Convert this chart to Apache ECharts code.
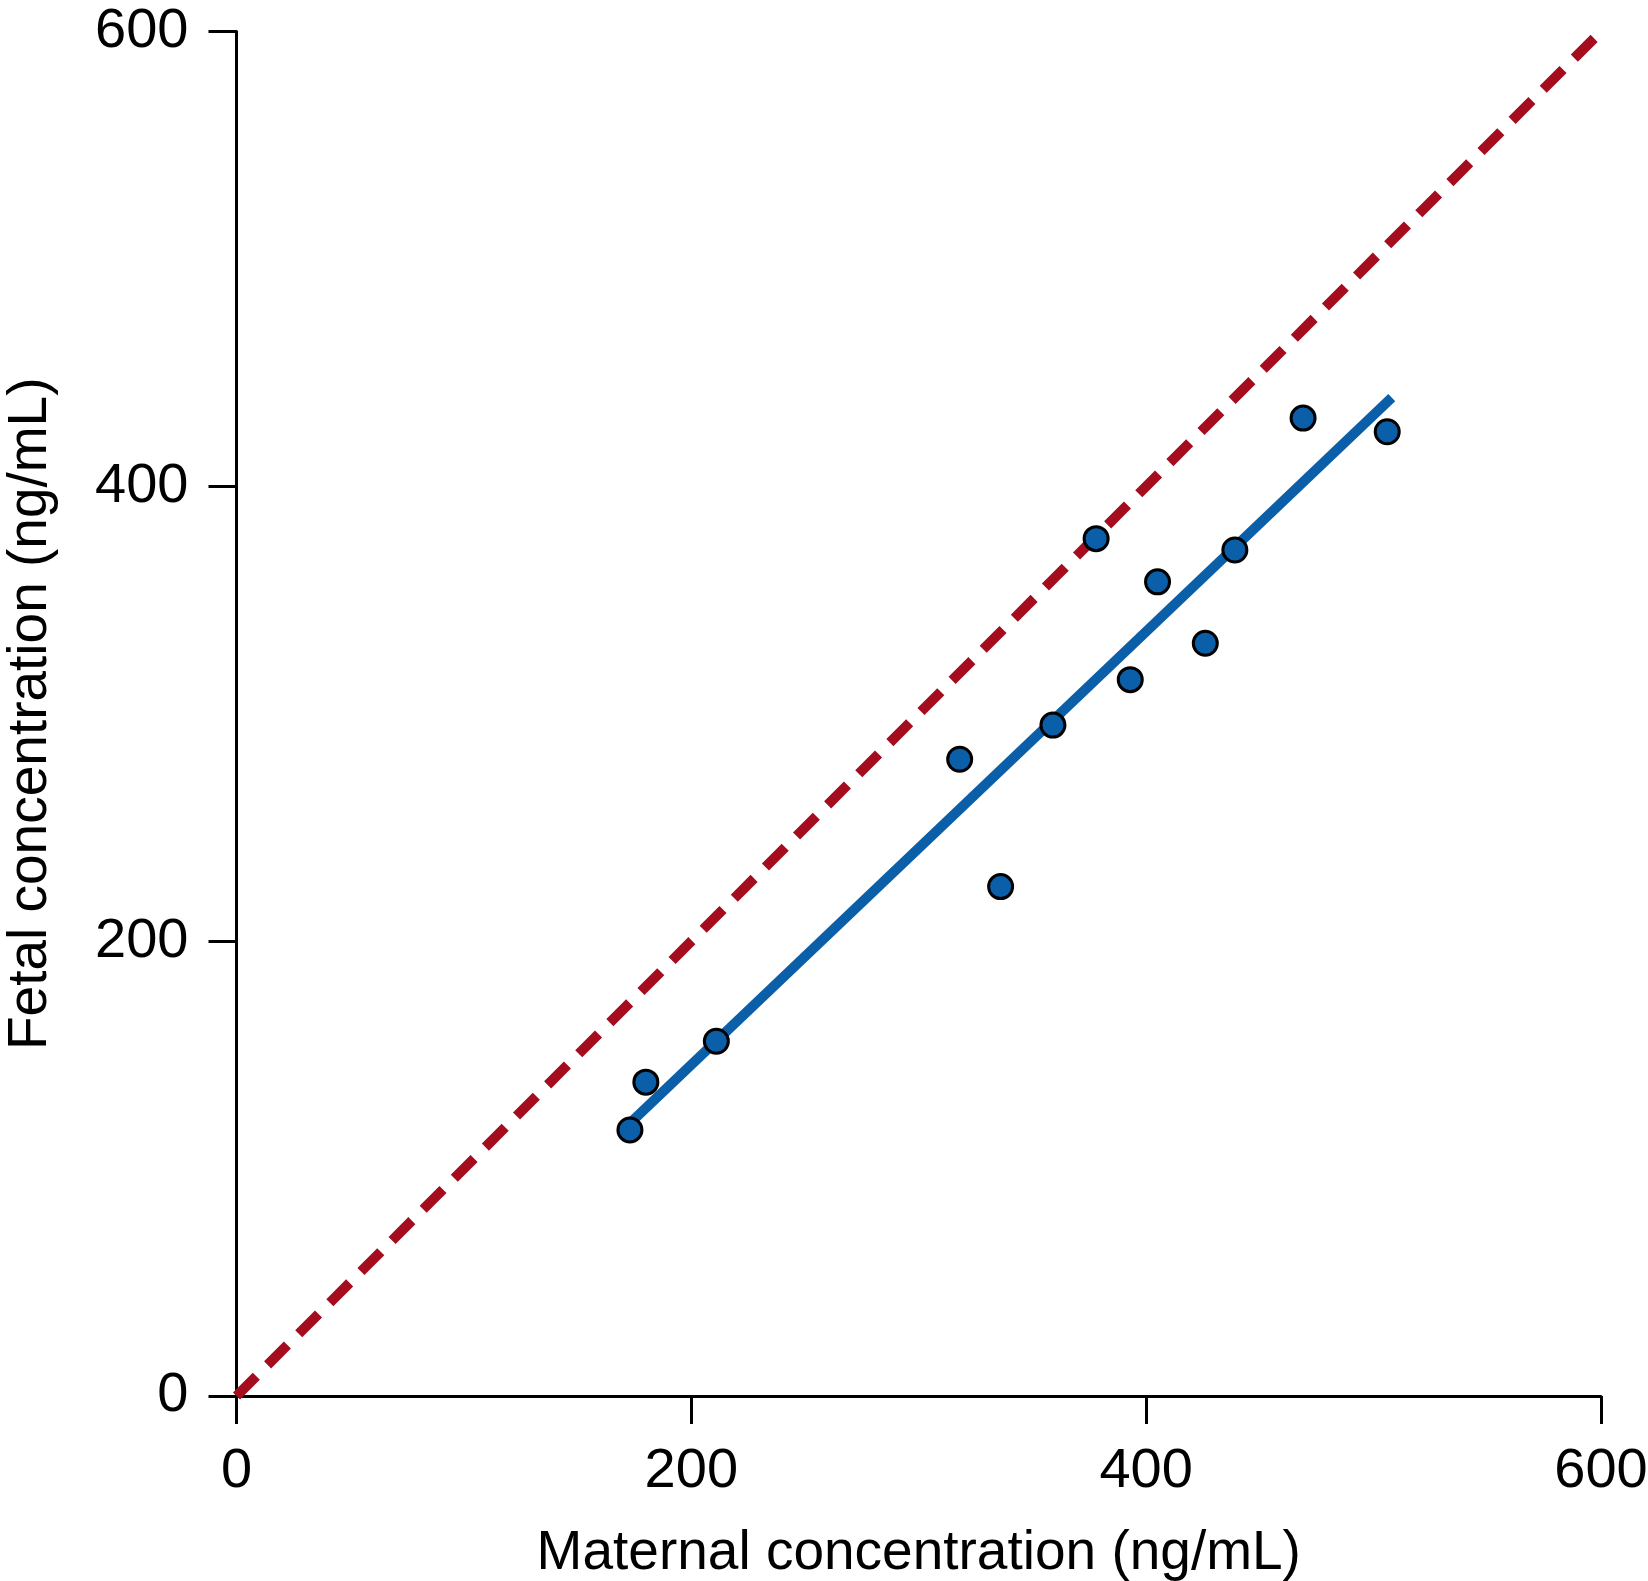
<!DOCTYPE html>
<html>
<head>
<meta charset="utf-8">
<script src="https://cdn.jsdelivr.net/npm/echarts@6/dist/echarts.min.js"></script>
<style>html,body{margin:0;padding:0;background:#fff}#c{width:1648px;height:1581px}</style>
</head>
<body>
<div id="c"></div>
<script>
var maternal = [173, 180, 211, 318, 336, 359, 378, 393, 405, 426, 439, 469, 506];
var fetal    = [117, 138, 156, 280, 224, 295, 377, 315, 358, 331, 372, 430, 424];
var fitLine = [[172, 119], [508, 439]];
var identityLine = [[0, 0], [600, 600]];
var ticks = [0, 200, 400, 600];
var xTitle = 'Maternal concentration (ng/mL)';
var yTitle = 'Fetal concentration (ng/mL)';

var pts = maternal.map(function (m, i) { return [m, fetal[i]]; });
var font = '"Liberation Sans", Arial, Helvetica, sans-serif';
var axisCommon = {
  type: 'value', min: ticks[0], max: ticks[ticks.length - 1], interval: ticks[1] - ticks[0],
  nameLocation: 'middle',
  nameTextStyle: { fontFamily: font, fontSize: 55, color: '#000' },
  axisLine: { show: true, lineStyle: { color: '#000', width: 3 } },
  axisTick: { show: true, length: 28, lineStyle: { color: '#000', width: 3 } },
  axisLabel: { fontFamily: font, fontSize: 56, color: '#000' },
  splitLine: { show: false }
};
var chart = echarts.init(document.getElementById('c'), null, { renderer: 'canvas' });
chart.setOption({
  animation: false,
  backgroundColor: '#fff',
  grid: { left: 236.5, right: 47, top: 31.5, bottom: 185, containLabel: false, outerBoundsMode: 'none' },
  xAxis: Object.assign({}, axisCommon, {
    name: xTitle, nameGap: 130,
    axisLabel: Object.assign({}, axisCommon.axisLabel, { margin: 48 })
  }),
  yAxis: Object.assign({}, axisCommon, {
    name: yTitle, nameGap: 178,
    axisLabel: Object.assign({}, axisCommon.axisLabel, { margin: 48 })
  }),
  series: [
    {
      type: 'line', data: identityLine, symbol: 'none', z: 1,
      lineStyle: { color: '#a50d1f', width: 10, type: [28, 16], cap: 'butt' }
    },
    {
      type: 'line', data: fitLine, symbol: 'none', z: 2,
      lineStyle: { color: '#0b5ea8', width: 10, cap: 'butt' }
    },
    {
      type: 'scatter', data: pts, symbol: 'circle', symbolSize: 24, z: 3,
      itemStyle: { color: '#0b5ea8', borderColor: '#000', borderWidth: 3, opacity: 1 }
    }
  ]
});
</script>
</body>
</html>
